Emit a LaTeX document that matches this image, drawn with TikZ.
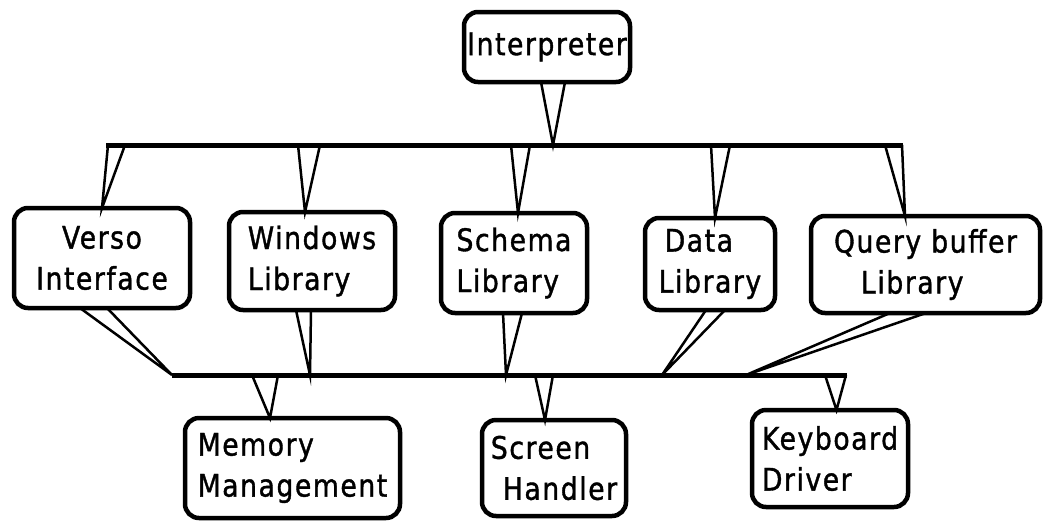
\documentclass[tikz,border=0pt]{standalone}
\usepackage{fontspec}
\newfontfamily\boxfont[LetterSpace=5,FakeStretch=0.86,FakeBold=1.2]{DejaVu Sans}
\usetikzlibrary{calc}
\begin{document}
\begin{tikzpicture}[x=1pt,y=-1pt,
  box/.style={draw, line width=4.5pt, rounded corners=14pt, inner sep=0pt, outer sep=0pt,
    font=\boxfont\fontsize{31}{41}\selectfont},
  bus/.style={line width=5pt},
  wedge/.style={line width=2.5pt, line join=miter}]
\useasboundingbox (0,0) rectangle (1046,523);

% boxes
\node[box, minimum width=166pt, minimum height=70pt] (interp) at (547,47) {Interpreter};
\node[box, minimum width=176pt, minimum height=100pt, align=center] (verso) at (102,258) {Verso\\Interface};
\node[box, minimum width=166pt, minimum height=98pt, align=left] (windows) at (312,261) {Windows\\Library};
\node[box, minimum width=146pt, minimum height=100pt, align=left] (schema) at (514,263) {Schema\\Library};
\node[box, minimum width=130pt, minimum height=92pt, align=left] (data) at (710,264) {\hspace{6pt}Data\\Library};
\node[box, minimum width=229pt, minimum height=97pt, align=left] (query) at (925.5,264.5) {Query buffer\\\hspace{27pt}Library};
\node[box, minimum width=215pt, minimum height=100pt, align=left] (memory) at (292.5,468) {Memory\\Management};
\node[box, minimum width=144pt, minimum height=96pt, align=left] (screen) at (554,468) {Screen\\\hspace{12pt}Handler};
\node[box, minimum width=156pt, minimum height=97pt, align=left] (keyboard) at (830,458.5) {Keyboard\\Driver};

% buses
\coordinate (b1L) at (106,145);
\coordinate (b1R) at (903,145);
\coordinate (b2L) at (172,375);
\coordinate (b2R) at (847,375);
\draw[bus] (b1L) -- (b1R);
\draw[bus] (b2L) -- (b2R);

% points on bus 1
\coordinate (b1i) at (553,145);
\coordinate (b1v) at (116.5,145);
\coordinate (b1w) at (309,145);
\coordinate (b1s) at (520.5,145);
\coordinate (b1d) at (720.5,145);
\coordinate (b1q) at (893.5,145);
% points on bus 2
\coordinate (b2v) at (b2L);
\coordinate (b2w) at (310,375);
\coordinate (b2s) at (506,375);
\coordinate (b2d) at (662,375);
\coordinate (b2q) at (746,375);
\coordinate (b2m) at (265,375);
\coordinate (b2c) at (544,375);
\coordinate (b2k) at (835.5,375);

% interpreter to bus 1
\draw[wedge] ($(b1i |- interp.south)+(-12,0)$) -- (b1i) -- ($(b1i |- interp.south)+(12,0)$);

% bus 1 to second row
\draw[wedge] ($(b1v)+(-8.5,0)$) -- (verso.north) -- ($(b1v)+(8.5,0)$);
\draw[wedge] ($(b1w)+(-11,0)$) -- ($(windows.north)+(-7,0)$) -- ($(b1w)+(11,0)$);
\draw[wedge] ($(b1s)+(-9.5,0)$) -- ($(schema.north)+(4,0)$) -- ($(b1s)+(9.5,0)$);
\draw[wedge] ($(b1d)+(-9.5,0)$) -- ($(data.north)+(5,0)$) -- ($(b1d)+(9.5,0)$);
\draw[wedge] ($(b1q)+(-8.5,0)$) -- ($(query.north)+(-20.5,0)$) -- ($(b1q)+(8.5,0)$);

% second row to bus 2
\draw[wedge] ($(verso.south)+(-22,0)$) -- (b2v) -- ($(verso.south)+(5,0)$);
\draw[wedge] ($(windows.south)+(-16,0)$) -- (b2w) -- ($(windows.south)+(-1,0)$);
\draw[wedge] ($(schema.south)+(-11,0)$) -- (b2s) -- ($(schema.south)+(8,0)$);
\draw[wedge] ($(data.south)+(-4,0)$) -- (b2d) -- ($(data.south)+(15,0)$);
\draw[wedge] ($(query.south)+(-35.5,0)$) -- (b2q) -- ($(query.south)+(0.5,0)$);

% bus 2 to bottom row
\draw[wedge] ($(b2m)+(-13,0)$) -- ($(memory.north)+(-22.5,0)$) -- ($(b2m)+(13,0)$);
\draw[wedge] ($(b2c)+(-9,0)$) -- ($(screen.north)+(-9,0)$) -- ($(b2c)+(9,0)$);
\draw[wedge] ($(b2k)+(-10.5,0)$) -- ($(keyboard.north)+(6.5,0)$) -- ($(b2k)+(10.5,0)$);
\end{tikzpicture}
\end{document}
